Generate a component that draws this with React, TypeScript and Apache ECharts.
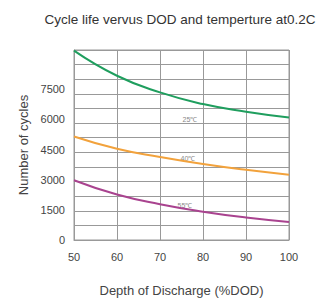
import React, { useEffect, useRef } from "react";
import * as echarts from "echarts";

const dod = [50, 60, 70, 80, 90, 100];
const cycles25 = [9420, 8170, 7340, 6760, 6380, 6090];
const cycles40 = [5150, 4540, 4130, 3780, 3490, 3250];
const cycles55 = [2970, 2260, 1780, 1410, 1120, 900];
const yTicks = [0, 1500, 3000, 4500, 6000, 7500];
const seriesNames = ["25℃", "40℃", "55℃"];

const FONT = "'Liberation Sans', Arial, sans-serif";

export default function App() {
  const ref = useRef<HTMLDivElement>(null);
  useEffect(() => {
    if (!ref.current) return;
    const chart = echarts.init(ref.current, undefined, { renderer: "svg" });
    const yMax = 9450;
    const mk = (vals: number[]) => dod.map((d, i) => [d, vals[i]]);
    chart.setOption({
      animation: false,
      backgroundColor: "#ffffff",
      title: {
        text: "Cycle life vervus DOD and temperture at0.2C",
        left: 175,
        top: 7,
        textAlign: "center",
        textStyle: { fontFamily: FONT, fontSize: 13.5, fontWeight: "normal", color: "#333" },
      },
      grid: { left: 74, right: 41, top: 50, bottom: 55, show: true, borderColor: "#999", borderWidth: 1 },
      xAxis: {
        type: "value",
        min: 50,
        max: 100,
        interval: 10,
        name: "Depth of Discharge (%DOD)",
        nameLocation: "middle",
        nameGap: 44,
        nameTextStyle: { fontFamily: FONT, fontSize: 13, color: "#444" },
        axisLine: { show: true, lineStyle: { color: "#999" } },
        axisTick: { show: false },
        axisLabel: { fontFamily: FONT, fontSize: 11, color: "#444", margin: 11 },
        splitLine: { show: true, lineStyle: { color: "#999", width: 1 } },
      },
      yAxis: [
        {
          type: "value",
          min: 0,
          max: yMax,
          interval: 1500,
          name: "Number of cycles",
          nameLocation: "middle",
          nameGap: 42,
          nameRotate: 90,
          nameTextStyle: { fontFamily: FONT, fontSize: 13, color: "#444" },
          axisLine: { show: true, lineStyle: { color: "#999" } },
          axisTick: { show: false },
          splitLine: { show: false },
          axisLabel: {
            fontFamily: FONT,
            fontSize: 11,
            color: "#444",
            margin: 9,
            formatter: (v: number) => (yTicks.indexOf(v) >= 0 ? String(v) : ""),
          },
        },
        {
          type: "value",
          min: 0,
          max: 13,
          interval: 1,
          position: "left",
          axisLine: { show: false },
          axisTick: { show: false },
          axisLabel: { show: false },
          splitLine: { show: true, lineStyle: { color: "#999", width: 1 } },
        },
      ],
      series: [
        { name: seriesNames[0], type: "line", smooth: true, showSymbol: false, data: mk(cycles25), lineStyle: { color: "#1f9e5e", width: 2 }, itemStyle: { color: "#1f9e5e" } },
        { name: seriesNames[1], type: "line", smooth: true, showSymbol: false, data: mk(cycles40), lineStyle: { color: "#f2a23c", width: 2 }, itemStyle: { color: "#f2a23c" } },
        { name: seriesNames[2], type: "line", smooth: true, showSymbol: false, data: mk(cycles55), lineStyle: { color: "#a9438f", width: 2 }, itemStyle: { color: "#a9438f" } },
      ],
      graphic: [
        { type: "text", x: 190, y: 119, style: { text: seriesNames[0], fontFamily: FONT, fontSize: 7, fill: "#888", align: "center", verticalAlign: "middle" } },
        { type: "text", x: 188, y: 158, style: { text: seriesNames[1], fontFamily: FONT, fontSize: 7, fill: "#888", align: "center", verticalAlign: "middle" } },
        { type: "text", x: 185, y: 205, style: { text: seriesNames[2], fontFamily: FONT, fontSize: 7, fill: "#888", align: "center", verticalAlign: "middle" } },
      ],
    });
    return () => chart.dispose();
  }, []);
  return <div ref={ref} style={{ position: "fixed", left: 0, top: 0, width: 330, height: 302 }} />;
}
